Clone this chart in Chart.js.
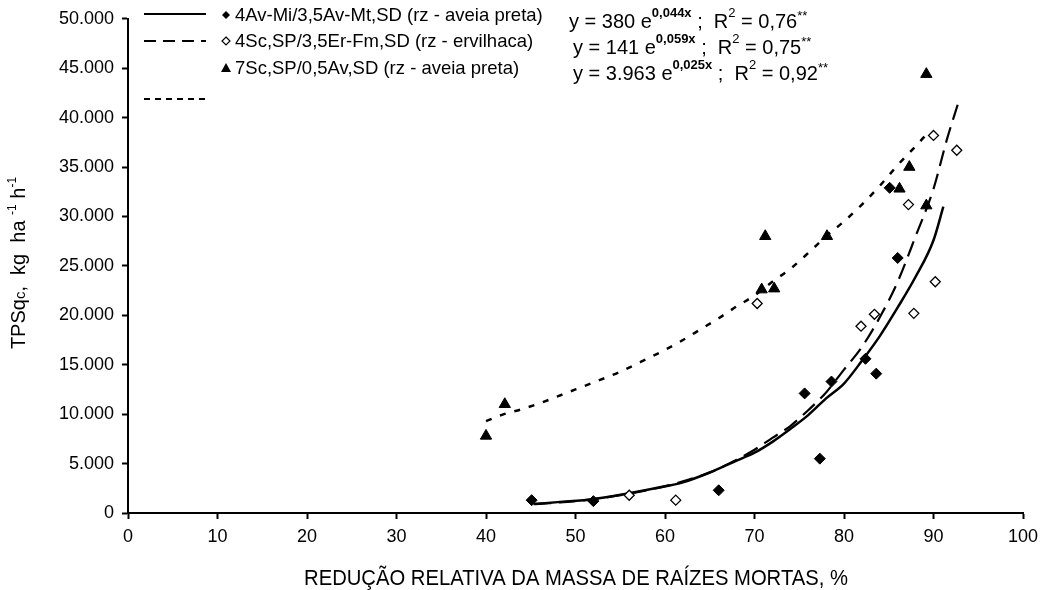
<!DOCTYPE html>
<html>
<head>
<meta charset="utf-8">
<script src="https://cdn.jsdelivr.net/npm/chart.js@4/dist/chart.umd.min.js"></script>
<style>
  html, body { margin: 0; padding: 0; background: #fff; }
  #wrap { width: 1049px; height: 590px; }
</style>
</head>
<body>
<div id="wrap"><canvas id="chart"></canvas></div>
<script>
// observed points (x = % reduction, y = TPSqc)
const avX = [45.1, 52.0, 66.0, 75.6, 77.3, 78.6, 82.4, 83.6, 86.0, 85.1];
const avY = [1300, 1200, 2300, 12100, 5500, 13300, 15600, 14100, 25800, 32900];
const erX = [56.0, 61.2, 70.3, 81.9, 83.4, 87.8, 90.2, 87.2, 90.0, 92.6];
const erY = [1800, 1300, 21200, 18900, 20100, 20200, 23400, 31200, 38200, 36700];
const scX = [40.0, 42.1, 70.8, 72.2, 71.2, 78.1, 86.2, 87.3, 89.2, 89.2];
const scY = [7800, 11000, 22600, 22700, 28000, 28000, 32800, 35000, 31100, 44400];

// fitted curves
const fitAvX = [45.3, 48, 52, 56, 60, 62, 65, 68, 70, 72, 74, 76, 78, 80, 82, 84, 86, 88, 90, 91.1];
const fitAvY = [900, 1100, 1400, 2000, 2700, 3100, 4100, 5300, 6100, 7200, 8500, 9900, 11600, 13100, 15400, 17900, 20800, 23900, 27600, 31000];
const fitErX = [45.5, 50, 55, 60, 62, 65, 68, 70, 72, 74, 76, 78, 80, 82, 84, 86, 88, 90, 91.5, 92.7];
const fitErY = [900, 1200, 1800, 2700, 3200, 4100, 5400, 6400, 7600, 8800, 10400, 12200, 14500, 16800, 19800, 23400, 28000, 32800, 37800, 41300];
const fitScX = [40, 42, 44, 46, 48, 50, 52, 55, 58, 60, 62, 64, 66, 68, 70, 72, 74, 76, 78, 80, 82, 84, 86, 88, 89.2];
const fitScY = [9300, 10000, 10500, 11100, 11800, 12500, 13200, 14300, 15600, 16500, 17500, 18600, 19700, 20900, 22000, 23400, 24700, 26300, 28000, 29500, 31200, 33100, 35200, 37100, 38300];

const seriesNames = [
  "4Av-Mi/3,5Av-Mt,SD (rz - aveia preta)",
  "4Sc,SP/3,5Er-Fm,SD (rz - ervilhaca)",
  "7Sc,SP/0,5Av,SD (rz - aveia preta)"
];
const eqA = ["380", "141", "3.963"];
const eqB = ["0,044x", "0,059x", "0,025x"];
const eqR2 = ["0,76", "0,75", "0,92"];

const xTitle = "REDUÇÃO RELATIVA DA MASSA DE RAÍZES MORTAS, %";

const pts = (xs, ys) => xs.map((x, i) => ({x: x, y: ys[i]}));
const FONT = "'Liberation Sans', Arial, sans-serif";

function richText(ctx, x, y, parts) {
  // parts: [text, size, dy, bold]
  let cx = x;
  parts.forEach(p => {
    ctx.font = (p[3] ? "bold " : "") + p[1] + "px " + FONT;
    ctx.fillText(p[0], cx, y + (p[2] || 0));
    cx += ctx.measureText(p[0]).width;
  });
  return cx;
}

function richWidth(ctx, parts) {
  let w = 0;
  parts.forEach(p => {
    ctx.font = (p[3] ? "bold " : "") + p[1] + "px " + FONT;
    w += ctx.measureText(p[0]).width;
  });
  return w;
}

const decor = {
  id: "decor",
  afterDraw(chart) {
    const ctx = chart.ctx;
    ctx.save();
    ctx.fillStyle = "#000";
    ctx.strokeStyle = "#000";
    ctx.textBaseline = "alphabetic";
    ctx.textAlign = "left";

    // legend
    const rows = [21, 47, 74];
    const eqRows = [28, 54, 80];
    const dashes = [[], [12, 7], [6, 5]];
    const lineY = [14, 41, 99];
    for (let i = 0; i < 3; i++) {
      ctx.beginPath();
      ctx.lineWidth = 2;
      ctx.setLineDash(dashes[i]);
      ctx.moveTo(144, lineY[i]);
      ctx.lineTo(206, lineY[i]);
      ctx.stroke();
      ctx.setLineDash([]);

      const mx = 226, my = rows[i] - 6;
      ctx.beginPath();
      if (i === 2) {
        ctx.moveTo(mx, my - 5); ctx.lineTo(mx + 5, my + 4); ctx.lineTo(mx - 5, my + 4); ctx.closePath();
        ctx.fill();
      } else {
        ctx.moveTo(mx, my - 4); ctx.lineTo(mx + 4, my); ctx.lineTo(mx, my + 4); ctx.lineTo(mx - 4, my); ctx.closePath();
        if (i === 0) ctx.fill(); else { ctx.lineWidth = 1.2; ctx.stroke(); }
      }
      ctx.font = "18.5px " + FONT;
      ctx.fillText(seriesNames[i], 235, rows[i]);

      richText(ctx, i === 0 ? 569 : 573, eqRows[i], [
        ["y = " + eqA[i] + " e", 20],
        [eqB[i], 13, -11, true],
        [" ;  R", 20],
        ["2", 13, -11],
        [" = " + eqR2[i], 20],
        ["**", 13, -8]
      ]);
    }

    // y title
    const yParts = [["TPSq", 20], ["c", 15], [",  kg  ha ", 20], ["-1", 12, -9], [" h", 20], ["-1", 12, -9]];
    ctx.translate(25, 263);
    ctx.rotate(-Math.PI / 2);
    richText(ctx, -richWidth(ctx, yParts) / 2, 0, yParts);
    ctx.restore();

    // x title, condensed like the original
    ctx.save();
    ctx.fillStyle = "#000";
    ctx.font = "22px " + FONT;
    ctx.textAlign = "center";
    ctx.translate(576, 585);
    ctx.scale(0.92, 1);
    ctx.fillText(xTitle, 0, 0);
    ctx.restore();
  }
};

new Chart(document.getElementById("chart"), {
  type: "scatter",
  data: {
    datasets: [
      { data: pts(avX, avY), pointStyle: "rectRot", pointRadius: 5.5, backgroundColor: "#000", borderColor: "#000", borderWidth: 1 },
      { data: pts(erX, erY), pointStyle: "rectRot", pointRadius: 5, backgroundColor: "#fff", borderColor: "#000", borderWidth: 1.3 },
      { data: pts(scX, scY), pointStyle: "triangle", pointRadius: 6.5, backgroundColor: "#000", borderColor: "#000", borderWidth: 1 },
      { type: "line", data: pts(fitAvX, fitAvY), showLine: true, pointRadius: 0, borderColor: "#000", borderWidth: 2.5, cubicInterpolationMode: "monotone", fill: false },
      { type: "line", data: pts(fitErX, fitErY), showLine: true, pointRadius: 0, borderColor: "#000", borderWidth: 2.2, borderDash: [16, 8], cubicInterpolationMode: "monotone", fill: false },
      { type: "line", data: pts(fitScX, fitScY), showLine: true, pointRadius: 0, borderColor: "#000", borderWidth: 2.5, borderDash: [6, 9], cubicInterpolationMode: "monotone", fill: false }
    ]
  },
  options: {
    responsive: true,
    maintainAspectRatio: false,
    animation: false,
    layout: { padding: { top: 18, right: 26, left: 0, bottom: 0 } },
    plugins: { legend: { display: false }, tooltip: { enabled: false } },
    scales: {
      x: {
        type: "linear", min: 0, max: 100,
        ticks: { stepSize: 10, color: "#000", font: { family: FONT, size: 18 }, padding: 7 },
        grid: { display: true, drawOnChartArea: false, drawTicks: true, tickLength: 6, tickColor: "#000", tickWidth: 2 },
        border: { display: true, color: "#000", width: 2 },
        afterFit: s => { s.height = 77; }
      },
      y: {
        type: "linear", min: 0, max: 50000,
        ticks: {
          stepSize: 5000, color: "#000", font: { family: FONT, size: 18 }, padding: 8,
          callback: v => String(v).replace(/\B(?=(\d{3})+(?!\d))/g, ".")
        },
        grid: { display: true, drawOnChartArea: false, drawTicks: true, tickLength: 6, tickColor: "#000", tickWidth: 2 },
        border: { display: true, color: "#000", width: 2 },
        afterFit: s => { s.width = 128; }
      }
    }
  },
  plugins: [decor]
});
</script>
</body>
</html>
